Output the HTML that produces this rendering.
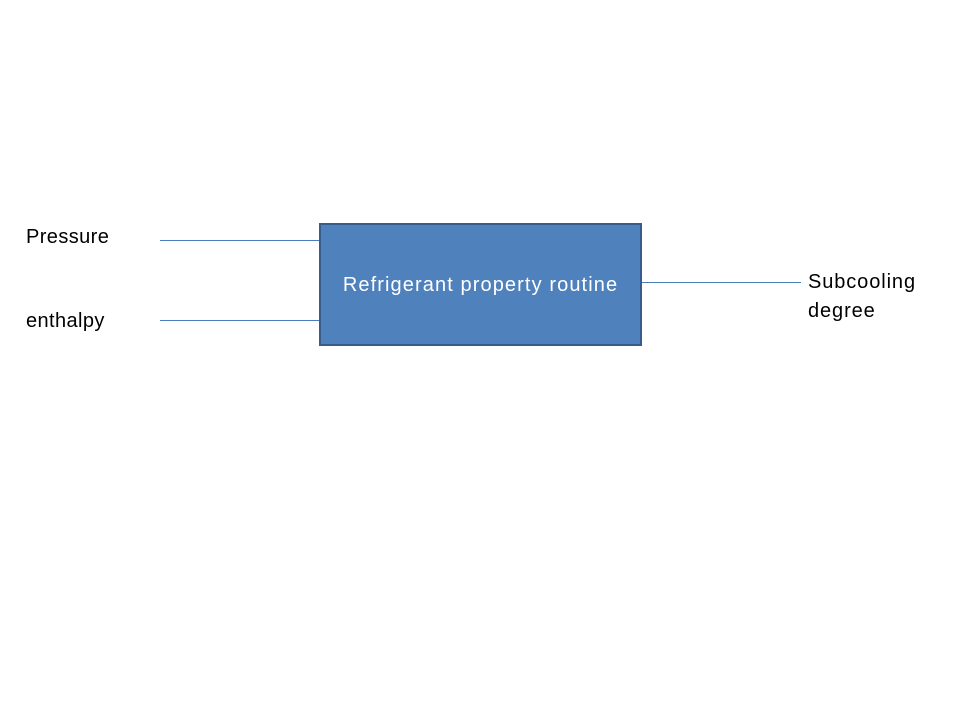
<!DOCTYPE html>
<html><head><style>
body{margin:0;width:960px;height:720px;background:#fff;position:relative;font-family:"Liberation Sans",sans-serif;overflow:hidden}
.t{position:absolute;font-size:20px;color:#000;line-height:29px;letter-spacing:0.4px}
.l{position:absolute;height:1px;background:#4a7ebb}
#box{position:absolute;left:319px;top:223px;width:319px;height:119px;background:#4f81bd;border:2px solid #385d8a;color:#fff;font-size:20px;letter-spacing:1.1px;display:flex;align-items:center;justify-content:center;padding-top:2px;box-sizing:content-box}
</style></head><body>
<div class="l" style="left:160px;top:240px;width:160px"></div>
<div class="l" style="left:160px;top:320px;width:160px"></div>
<div class="l" style="left:641px;top:282px;width:160px"></div>
<div id="box" style="height:117px">Refrigerant property routine</div>
<div class="t" style="left:26px;top:223px">Pressure</div>
<div class="t" style="left:26px;top:307px">enthalpy</div>
<div class="t" style="left:808px;top:268px;letter-spacing:0.9px">Subcooling<br>degree</div>
</body></html>
